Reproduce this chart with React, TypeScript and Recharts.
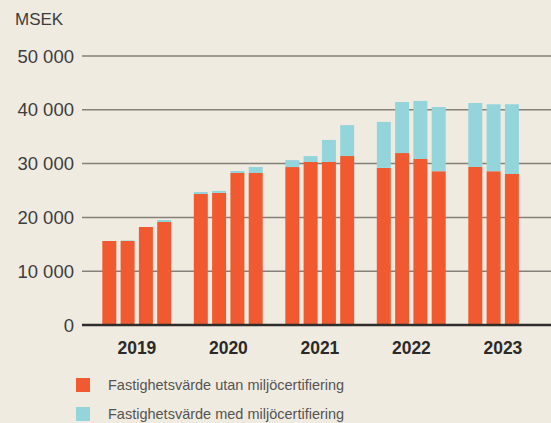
import React from 'react';
import { BarChart, Bar, XAxis, YAxis, CartesianGrid, ReferenceLine } from 'recharts';

const years = ['2019', '2020', '2021', '2022', '2023'];

// quarterly values per year, MSEK
const utanMiljo = [
  [15600, 15600, 18200, 19150],
  [24350, 24550, 28250, 28250],
  [29350, 30300, 30300, 31400],
  [29200, 31950, 30850, 28600],
  [29350, 28600, 28050],
];
const medMiljo = [
  [0, 120, 0, 370],
  [370, 370, 370, 1120],
  [1300, 1100, 4100, 5750],
  [8550, 9500, 10800, 11900],
  [11900, 12450, 13000],
];

const yTicks = [0, 10000, 20000, 30000, 40000, 50000];

const series = [
  { key: 'utan', name: 'Fastighetsvärde utan miljöcertifiering', color: '#f15a30' },
  { key: 'med', name: 'Fastighetsvärde med miljöcertifiering', color: '#94d4db' },
];

// one spacer slot before each year, then four quarter slots
const chartData: any[] = [];
years.forEach((year, i) => {
  chartData.push({ key: `gap-${year}`, year: '', q: -1 });
  for (let q = 0; q < 4; q++) {
    chartData.push({
      key: `${year}-${q}`,
      year,
      q,
      utan: utanMiljo[i][q],
      med: medMiljo[i][q],
    });
  }
});

const fmt = (v: number) => (v === 0 ? '0' : v.toLocaleString('sv-SE').replace(/\s/g, ' '));

const YearTick = (props: any) => {
  const { x, y, payload } = props;
  const row = chartData.find((d) => d.key === payload.value);
  if (!row || row.q !== 1) return null;
  return (
    <text x={x + 9.15} y={y} dy="0.71em" textAnchor="middle" fontSize={17.5} fontWeight={700} fill="#2b2a29">
      {row.year}
    </text>
  );
};

export default function App() {
  return (
    <div
      style={{
        position: 'absolute',
        left: 0,
        top: 0,
        width: 551,
        height: 423,
        background: '#f0ebe1',
        fontFamily: '"Liberation Sans", Arial, sans-serif',
        overflow: 'hidden',
      }}
    >
      <div style={{ position: 'absolute', left: 15, top: 10, fontSize: 17, lineHeight: '20px', color: '#3d3d3d' }}>
        MSEK
      </div>
      <BarChart width={551} height={423} data={chartData} margin={{ top: 56, right: 0, bottom: 0, left: 0 }}>
        <CartesianGrid vertical={false} stroke="#85807a" strokeWidth={1.5} />
        <XAxis
          dataKey="key"
          height={98}
          axisLine={false}
          tickLine={false}
          tickMargin={11}
          interval={0}
          padding={{ left: 0, right: 11.5 }}
          tick={<YearTick />}
        />
        <YAxis
          width={82}
          domain={[0, 50000]}
          ticks={yTicks}
          axisLine={false}
          tickLine={false}
          tickFormatter={fmt}
          tick={{ fontSize: 18.5, fill: '#3d3d3d' }}
        />
        {series.map((s) => (
          <Bar key={s.key} dataKey={s.key} stackId="a" fill={s.color} barSize={14} isAnimationActive={false} />
        ))}
        <ReferenceLine y={0} stroke="#2e2d2c" strokeWidth={2.5} />
      </BarChart>
      <div style={{ position: 'absolute', left: 76, top: 378 }}>
        {series.map((s) => (
          <div key={s.key} style={{ display: 'flex', alignItems: 'center', height: 14, marginBottom: 15 }}>
            <div style={{ width: 14, height: 14, background: s.color }} />
            <span style={{ marginLeft: 18, fontSize: 14.5, color: '#555452' }}>{s.name}</span>
          </div>
        ))}
      </div>
    </div>
  );
}
